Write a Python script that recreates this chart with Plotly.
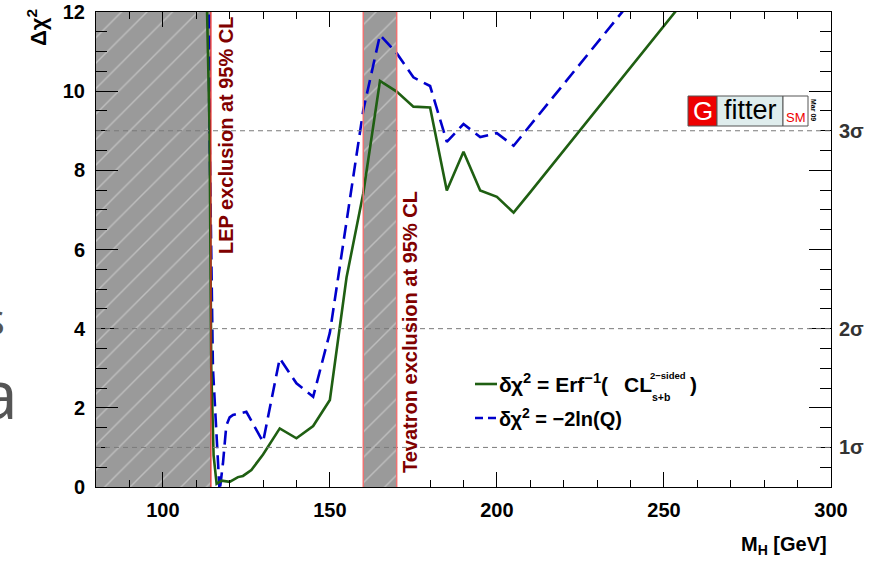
import plotly.graph_objects as go

# Higgs mass scan [GeV] and Δχ² for the two test statistics
mh_erf = [113.0, 114.0, 114.5, 115.2, 116.1, 117.6, 120.0, 122.5, 124.0, 126.5,
          130.0, 135.0, 140.0, 145.0, 150.0, 155.0, 160.0, 165.0, 170.0, 175.0,
          180.0, 185.0, 190.0, 195.0, 200.0, 205.0, 210.0, 220.0, 230.0, 240.0,
          250.0, 260.0]
dchi2_erf = [13.0, 9.0, 3.0, 0.8, 0.08, 0.16, 0.13, 0.25, 0.28, 0.43,
             0.82, 1.48, 1.23, 1.54, 2.2, 5.3, 7.42, 10.26, 9.99, 9.61,
             9.59, 7.49, 8.47, 7.49, 7.33, 6.93, 7.45, 8.5, 9.55, 10.6,
             11.65, 12.7]

mh_llr = [113.7, 113.9, 114.4, 115.0, 117.0, 118.0, 119.0, 120.0, 121.0, 125.0,
          130.0, 135.0, 140.0, 145.0, 150.0, 155.0, 160.0, 165.0, 170.0, 175.0,
          180.0, 185.0, 190.0, 195.0, 200.0, 205.0, 210.0, 220.0, 230.0, 240.0]
dchi2_llr = [13.0, 9.5, 6.5, 3.0, -0.12, 0.6, 1.55, 1.76, 1.82, 1.9,
             1.14, 3.25, 2.62, 2.28, 3.9, 6.74, 9.52, 11.42, 10.96, 10.35,
             10.13, 8.72, 9.17, 8.84, 8.94, 8.62, 9.14, 10.18, 11.22, 12.26]

# Direct search exclusions [GeV]
lep_limit = 114.4
tev_low, tev_high = 160.0, 170.0

# Significance reference levels on the right axis
sigma_levels = [1, 4, 9]
sigma_labels = ["1σ", "2σ", "3σ"]

x_range = [80, 300]
y_range = [0, 12]

GREEN = "#1f5f12"
BLUE = "#0000cc"
DARKRED = "#800000"
BAND = "#9a9a9a"
FONT = "Liberation Sans, Arial, sans-serif"

# plot-area frame in pixels, used to place decorations in paper coordinates
L, R, T, B = 96, 831, 12, 487


def fx(p):
    return (p - L) / (R - L)


def fy(p):
    return (B - p) / (B - T)


fig = go.Figure()

hatch = dict(shape="/", fgcolor="#e2e2e2", bgcolor=BAND, size=18, solidity=0.08)

# LEP excluded region
fig.add_trace(go.Scatter(
    x=[x_range[0], lep_limit, lep_limit, x_range[0], x_range[0]],
    y=[y_range[0], y_range[0], y_range[1], y_range[1], y_range[0]],
    fill="toself", mode="lines", line=dict(width=0, color="rgba(0,0,0,0)"),
    fillcolor=BAND, fillpattern=hatch, hoverinfo="skip", showlegend=False))

# Tevatron excluded region
fig.add_trace(go.Scatter(
    x=[tev_low, tev_high, tev_high, tev_low, tev_low],
    y=[y_range[0], y_range[0], y_range[1], y_range[1], y_range[0]],
    fill="toself", mode="lines", line=dict(width=0, color="rgba(0,0,0,0)"),
    fillcolor=BAND, fillpattern=hatch, hoverinfo="skip", showlegend=False))

fig.add_trace(go.Scatter(
    x=mh_llr, y=dchi2_llr, mode="lines",
    line=dict(color=BLUE, width=2.6, dash="14px,7px"),
    hoverinfo="skip", showlegend=False))

fig.add_trace(go.Scatter(
    x=mh_erf, y=dchi2_erf, mode="lines",
    line=dict(color=GREEN, width=2.6),
    hoverinfo="skip", showlegend=False))

# carrier trace for the right-hand sigma axis
fig.add_trace(go.Scatter(x=[x_range[0]], y=[y_range[0]], yaxis="y2",
                         mode="none", hoverinfo="skip", showlegend=False))

shapes = []
for lv in sigma_levels:
    shapes.append(dict(type="line", xref="paper", yref="y", x0=0, x1=1, y0=lv, y1=lv,
                       line=dict(color="#7a7a7a", width=1, dash="5px,4px"), layer="above"))
shapes.append(dict(type="line", xref="x", yref="paper", x0=lep_limit, x1=lep_limit, y0=0, y1=1,
                   line=dict(color="#ee2222", width=1.2), layer="above"))
for xv in (tev_low, tev_high):
    shapes.append(dict(type="line", xref="x", yref="paper", x0=xv, x1=xv, y0=0, y1=1,
                       line=dict(color="#ef7272", width=1.5), layer="above"))

# legend line samples
shapes.append(dict(type="line", xref="paper", yref="paper", x0=fx(475), x1=fx(497),
                   y0=fy(384), y1=fy(384), line=dict(color=GREEN, width=2.6)))
shapes.append(dict(type="line", xref="paper", yref="paper", x0=fx(475), x1=fx(497),
                   y0=fy(418), y1=fy(418), line=dict(color=BLUE, width=2.6, dash="8px,5px")))

# Gfitter logo boxes
shapes.append(dict(type="rect", xref="paper", yref="paper", x0=fx(688), x1=fx(717),
                   y0=fy(126), y1=fy(96), fillcolor="#ee0000", line=dict(color="#555", width=1)))
shapes.append(dict(type="rect", xref="paper", yref="paper", x0=fx(717), x1=fx(783),
                   y0=fy(126), y1=fy(96), fillcolor="#dfeded", line=dict(color="#555", width=1)))
shapes.append(dict(type="rect", xref="paper", yref="paper", x0=fx(783), x1=fx(808),
                   y0=fy(126), y1=fy(96), fillcolor="#ffffff", line=dict(color="#555", width=1)))

annotations = []


def note(text, x, y, size, color="black", bold=True, angle=0, xanchor="center",
         yanchor="middle", family=FONT):
    annotations.append(dict(
        text=text, xref="paper", yref="paper", x=fx(x), y=fy(y), showarrow=False,
        xanchor=xanchor, yanchor=yanchor, textangle=angle, borderpad=0,
        font=dict(family=family, size=size, color=color, weight="bold" if bold else "normal")))


note("LEP exclusion at 95% CL", 226, 135, 20, DARKRED, angle=-90)
note("Tevatron exclusion at 95% CL", 410, 332, 20, DARKRED, angle=-90)

# legend texts
note("δχ<sup>2</sup> = Erf<sup>−1</sup>(", 498, 383, 21, xanchor="left")
note("CL", 623, 384, 21, xanchor="left")
note("2−sided", 649, 375, 9.5, xanchor="left")
note("s+b", 651, 397, 10.5, xanchor="left")
note(")", 689, 384, 21, xanchor="left")
note("δχ<sup>2</sup> = −2ln(Q)", 498, 417, 20, xanchor="left")

# axis titles
note("Δχ<sup>2</sup>", 37, 28, 22, angle=-90)
note("M<sub>H</sub> [GeV]", 828, 545, 20, xanchor="right")

# logo text
note("G", 702.5, 111, 26, "white", bold=False)
note("fitter", 750, 110, 27, "black", bold=False)
note("SM", 795.5, 117, 13, "#ee0000", bold=False)
note("Mar 09", 814, 110, 7, "black", angle=90)

# slide text fragments at the left edge
note("s", 6, 318, 44, "#555555", bold=False, xanchor="right", family="Open Sans")
note("a", 19, 392, 68, "#555555", bold=False, xanchor="right", family="Open Sans")

fig.update_layout(
    width=871, height=561,
    margin=dict(l=L, r=871 - R, t=T, b=561 - B, pad=0, autoexpand=False),
    paper_bgcolor="white", plot_bgcolor="white",
    font=dict(family=FONT, color="black"),
    shapes=shapes, annotations=annotations,
    xaxis=dict(
        range=x_range, tick0=0, dtick=50, ticks="inside", ticklen=15, tickwidth=1,
        tickcolor="black", showline=True, linecolor="black", linewidth=1, mirror="ticks",
        showgrid=False, zeroline=False, ticklabelstandoff=5, automargin=False,
        tickfont=dict(size=20, weight="bold", family=FONT),
        minor=dict(dtick=10, ticks="inside", ticklen=7, tickcolor="black", showgrid=False)),
    yaxis=dict(
        range=y_range, dtick=2, ticks="inside", ticklen=22, tickwidth=1,
        tickcolor="black", showline=True, linecolor="black", linewidth=1, mirror="ticks",
        showgrid=False, zeroline=False, ticklabelstandoff=6, automargin=False,
        tickfont=dict(size=20, weight="bold", family=FONT),
        minor=dict(dtick=0.5, ticks="inside", ticklen=11, tickcolor="black", showgrid=False)),
    yaxis2=dict(
        range=y_range, overlaying="y", side="right", tickmode="array",
        tickvals=sigma_levels, ticktext=sigma_labels, ticks="", showline=False,
        showgrid=False, zeroline=False, ticklabelstandoff=7, automargin=False,
        tickfont=dict(size=20, weight="bold", color="#333333", family=FONT)),
)

fig.write_html("out.html")
